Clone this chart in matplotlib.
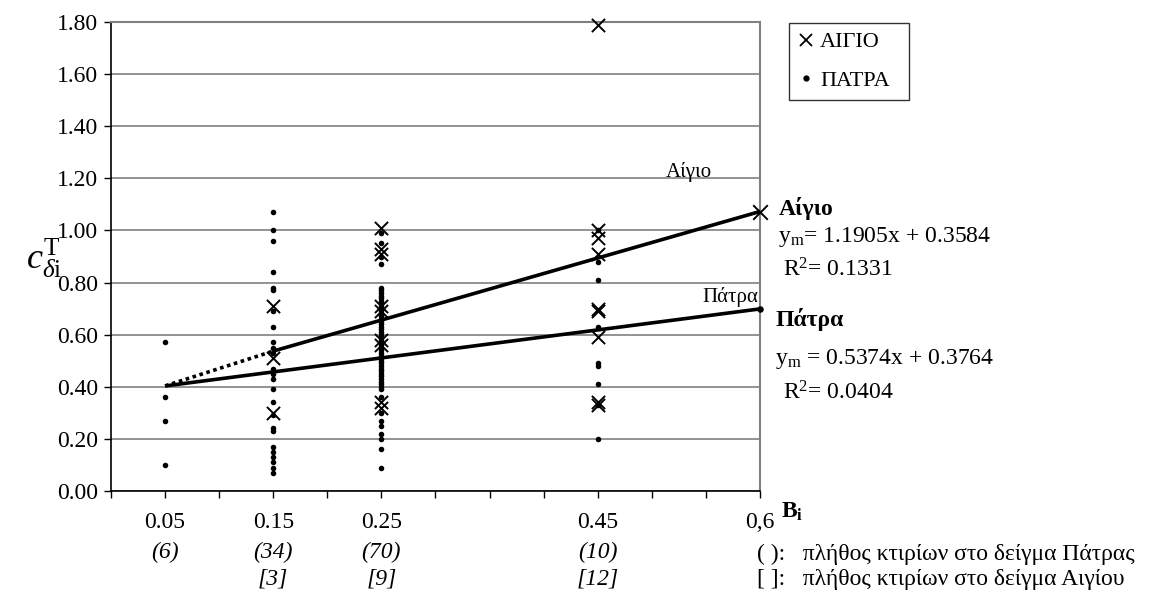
import matplotlib
matplotlib.use("Agg")
import matplotlib.pyplot as plt
from matplotlib.lines import Line2D
import numpy as np

plt.rcParams['font.family'] = ['Liberation Serif', 'DejaVu Serif']
plt.rcParams['mathtext.fontset'] = 'custom'
plt.rcParams['mathtext.rm'] = 'Liberation Serif'
plt.rcParams['mathtext.it'] = 'Liberation Serif:italic'
plt.rcParams['mathtext.bf'] = 'Liberation Serif:bold'

# ---------------- data ----------------
B_levels = [0.05, 0.15, 0.25, 0.45]
patra_counts = ["(6)", "(34)", "(70)", "(10)"]
aigio_counts = ["", "[3]", "[9]", "[12]"]

patra_005 = [0.57, 0.36, 0.27, 0.10]
patra_015 = [1.07, 1.00, 0.96, 0.84, 0.78, 0.77, 0.69, 0.63, 0.57, 0.55, 0.53,
             0.47, 0.45, 0.43, 0.39, 0.34, 0.29, 0.24, 0.23, 0.17, 0.15, 0.13,
             0.11, 0.09, 0.07]
patra_025 = [0.99, 0.95, 0.90, 0.87, 0.78, 0.77, 0.76, 0.75, 0.74, 0.73, 0.72,
             0.71, 0.70, 0.69, 0.68, 0.67, 0.66, 0.65, 0.64, 0.63, 0.62, 0.61,
             0.60, 0.59, 0.58, 0.57, 0.56, 0.55, 0.54, 0.53, 0.52, 0.51, 0.50,
             0.49, 0.48, 0.47, 0.46, 0.45, 0.44, 0.43, 0.42, 0.41, 0.40, 0.39,
             0.36, 0.30, 0.27, 0.25, 0.22, 0.20, 0.16, 0.09]
patra_045 = [1.00, 0.88, 0.81, 0.63, 0.49, 0.48, 0.41, 0.33, 0.20]

aigio_015 = [0.71, 0.51, 0.30]
aigio_025 = [1.01, 0.93, 0.91, 0.71, 0.69, 0.58, 0.56, 0.34, 0.32]
aigio_045 = [1.79, 1.00, 0.97, 0.91, 0.70, 0.69, 0.59, 0.34, 0.33]

aigio_slope, aigio_icpt, aigio_r2 = 1.1905, 0.3584, 0.1331
patra_slope, patra_icpt, patra_r2 = 0.5374, 0.3764, 0.0404

x_end = 0.6

# ---------------- figure ----------------
W, H = 1168, 594
fig = plt.figure(figsize=(W / 100, H / 100), dpi=100)
fx = lambda px: px / W
fy = lambda py: 1 - py / H

FS = 17

ax = fig.add_axes([fx(111), fy(491), (760 - 111) / W, (491 - 22) / H])
ax.set_xlim(0, 0.6)
ax.set_ylim(0, 1.8)

# grid
ax.set_yticks(np.arange(0, 1.81, 0.2))
ax.set_yticklabels([f"{v:.2f}" for v in np.arange(0, 1.81, 0.2)], fontsize=FS)
ax.yaxis.grid(True, color='#808080', lw=1.2)
ax.set_axisbelow(True)
ax.set_xticks(np.arange(0, 0.601, 0.05))
ax.set_xticklabels([])
ax.tick_params(axis='both', direction='out', length=5, width=1, color='black')
ax.tick_params(axis='y', pad=4)
for s in ['left', 'bottom']:
    ax.spines[s].set_color('black')
    ax.spines[s].set_linewidth(1.2)
for s in ['top', 'right']:
    ax.spines[s].set_color('#808080')
    ax.spines[s].set_linewidth(1.5)

# scatter Patra
px_ = ([0.05] * len(patra_005) + [0.15] * len(patra_015) +
       [0.25] * len(patra_025) + [0.45] * len(patra_045))
py_ = patra_005 + patra_015 + patra_025 + patra_045
ax.scatter(px_, py_, s=16, color='black', marker='o', linewidths=0, zorder=3,
           clip_on=False)

# scatter Aigio
ax_ = [0.15] * len(aigio_015) + [0.25] * len(aigio_025) + [0.45] * len(aigio_045)
ay_ = aigio_015 + aigio_025 + aigio_045
ax.scatter(ax_, ay_, s=90, color='black', marker='x', linewidths=1.4, zorder=4,
           clip_on=False)

# trend lines
patra_line = lambda x: patra_slope * x + patra_icpt
aigio_line = lambda x: aigio_slope * x + aigio_icpt
ax.plot([0.05, x_end], [patra_line(0.05), patra_line(x_end)], color='black',
        lw=2.6, zorder=5, solid_capstyle='butt')
ax.plot([0.15, x_end], [aigio_line(0.15), aigio_line(x_end)], color='black',
        lw=2.6, zorder=5, solid_capstyle='butt')
ax.plot([0.05, 0.15], [patra_line(0.05), aigio_line(0.15)], color='black',
        lw=2.6, ls=(0, (1, 1)), zorder=5)
ax.scatter([x_end], [aigio_line(x_end)], s=110, marker='x', color='black',
           linewidths=1.4, zorder=6, clip_on=False)
ax.scatter([x_end], [patra_line(x_end)], s=22, marker='o', color='black',
           linewidths=0, zorder=6, clip_on=False)

ax.text(0.534, 1.225, "Αίγιο", fontsize=15, ha='center', va='center')
ax.text(0.573, 0.745, "Πάτρα", fontsize=15, ha='center', va='center')

# x labels
for b, pc, ac in zip(B_levels, patra_counts, aigio_counts):
    ax.annotate(f"{b:.2f}", (b, 0), xytext=(0, -31), textcoords='offset pixels',
                ha='center', va='center', fontsize=FS)
    ax.annotate(pc, (b, 0), xytext=(0, -61), textcoords='offset pixels',
                ha='center', va='center', fontsize=FS, style='italic')
    if ac:
        ax.annotate(ac, (b, 0), xytext=(0, -88), textcoords='offset pixels',
                    ha='center', va='center', fontsize=FS, style='italic')
ax.annotate("0,6", (x_end, 0), xytext=(0, -31), textcoords='offset pixels',
            ha='center', va='center', fontsize=FS)

# y label
fig.text(fx(44), fy(258), r"$c_{\delta\mathrm{i}}^{\mathrm{T}}$", fontsize=26,
         ha='center', va='center')

# right-side annotations
fig.text(fx(779), fy(208), "Αίγιο", fontsize=FS, fontweight='bold', va='center')
fig.text(fx(778), fy(237), f"y$_\\mathrm{{m}}$= {aigio_slope}x + {aigio_icpt}",
         fontsize=FS, va='center')
fig.text(fx(783), fy(270), f"R$^{{2}}$= {aigio_r2}", fontsize=FS, va='center')
fig.text(fx(775), fy(319), "Πάτρα", fontsize=FS, fontweight='bold', va='center')
fig.text(fx(775), fy(359), f"y$_\\mathrm{{m}}$ = {patra_slope}x + {patra_icpt}",
         fontsize=FS, va='center')
fig.text(fx(783), fy(393), f"R$^{{2}}$= {patra_r2}", fontsize=FS, va='center')
fig.text(fx(781), fy(512), r"$\mathbf{B_i}$", fontsize=FS, va='center')
fig.text(fx(757), fy(554), "( ):   πλήθος κτιρίων στο δείγμα Πάτρας",
         fontsize=17, va='center')
fig.text(fx(757), fy(580), "[ ]:   πλήθος κτιρίων στο δείγμα Αιγίου",
         fontsize=17, va='center')

# legend
handles = [Line2D([], [], marker='x', color='black', ls='none', markersize=9,
                  markeredgewidth=1.3),
           Line2D([], [], marker='o', color='black', ls='none', markersize=3.5)]
leg = fig.legend(handles, ["ΑΙΓΙΟ", "ΠΑΤΡΑ"], loc='upper left',
                 bbox_to_anchor=(fx(789), fy(100), 120 / W, 77 / H),
                 mode='expand', fontsize=16, frameon=True,
                 fancybox=False, edgecolor='black', handlelength=0.7,
                 handletextpad=0.3, borderpad=0.4, labelspacing=0.8,
                 borderaxespad=0)
leg.get_frame().set_linewidth(1.0)

fig.savefig("out.png", dpi=100)
